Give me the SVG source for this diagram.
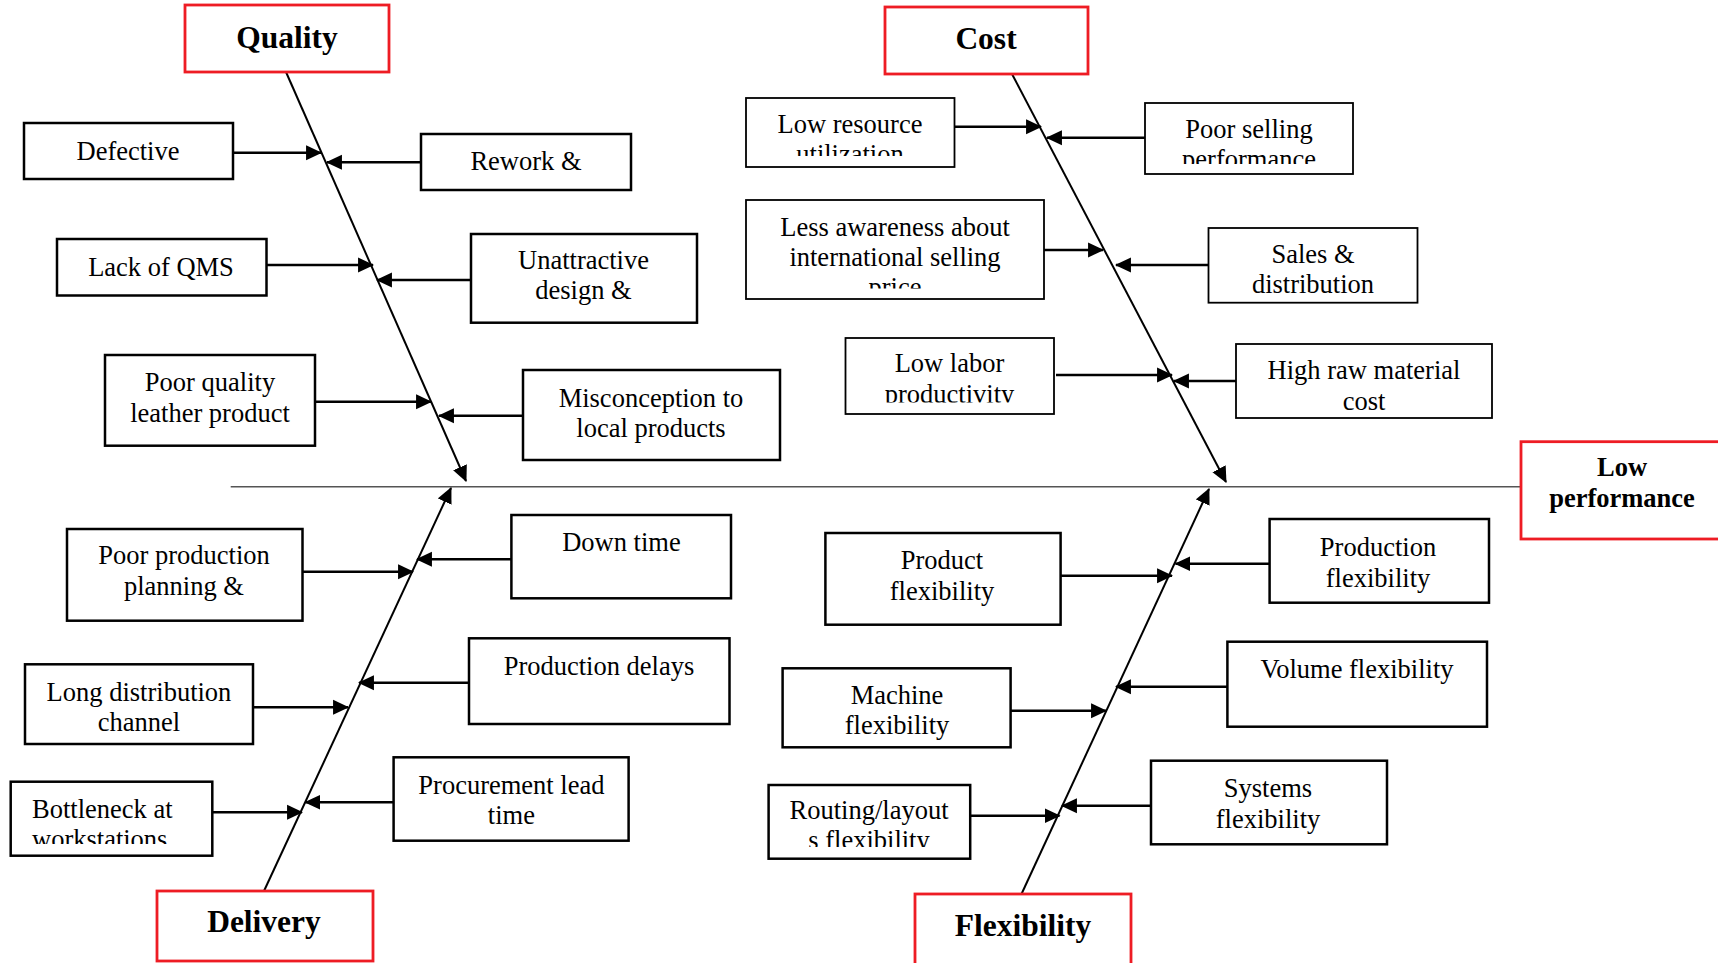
<svg xmlns="http://www.w3.org/2000/svg" width="1718" height="963" viewBox="0 0 1718 963">
<style>
.box{fill:#fff;stroke:#000;stroke-width:2.5}
.thin{stroke-width:1.8}
.cat{fill:#fff;stroke:#ee1c24;stroke-width:2.8}
.t{font-family:"Liberation Serif","Times New Roman",serif;font-size:26.5px;fill:#000;text-anchor:middle}
.l{text-anchor:start}
.h{font-family:"Liberation Serif","Times New Roman",serif;font-size:31.5px;font-weight:bold;fill:#000;text-anchor:middle}
.hp{font-family:"Liberation Serif","Times New Roman",serif;font-size:26.5px;font-weight:bold;fill:#000;text-anchor:middle}
.br{stroke:#000;stroke-width:2.6;fill:none;marker-end:url(#ah)}
.sp{stroke:#000;stroke-width:2;fill:none;marker-end:url(#ah)}
.main{stroke:#555;stroke-width:1.6;fill:none}
</style>
<defs>
<marker id="ah" markerUnits="userSpaceOnUse" markerWidth="16" markerHeight="16" viewBox="0 0 15 14" refX="14" refY="7" orient="auto">
<path d="M0,0 L15,7 L0,14 z" fill="#000"/>
</marker>
<clipPath id="c1"><rect x="746" y="98" width="209" height="58"/></clipPath>
<clipPath id="c2"><rect x="1145" y="103" width="208" height="61"/></clipPath>
<clipPath id="c3"><rect x="746" y="200" width="298" height="88.5"/></clipPath>
<clipPath id="c4"><rect x="845" y="338" width="209" height="64.5"/></clipPath>
<clipPath id="c5"><rect x="1236" y="344" width="256" height="71"/></clipPath>
<clipPath id="c6"><rect x="11" y="782" width="201" height="62"/></clipPath>
<clipPath id="c7"><rect x="769" y="785" width="201" height="62"/></clipPath>
</defs>

<g id="connectors">
<line class="main" x1="230.7" y1="486.7" x2="1521" y2="486.7"/>
<line class="sp" x1="286" y1="72" x2="466" y2="481"/>
<line class="sp" x1="1012" y1="74" x2="1226" y2="482"/>
<line class="sp" x1="264" y1="891" x2="451" y2="488"/>
<line class="sp" x1="1021.5" y1="894" x2="1209" y2="489"/>
<line class="br" x1="233" y1="152.7" x2="321" y2="152.7"/>
<line class="br" x1="421" y1="162.3" x2="327" y2="162.3"/>
<line class="br" x1="266.5" y1="265" x2="373" y2="265"/>
<line class="br" x1="471" y1="280" x2="377" y2="280"/>
<line class="br" x1="315" y1="401.7" x2="431" y2="401.7"/>
<line class="br" x1="523" y1="415.7" x2="439" y2="415.7"/>
<line class="br" x1="954.5" y1="126.7" x2="1041" y2="126.7"/>
<line class="br" x1="1145" y1="137.7" x2="1047" y2="137.7"/>
<line class="br" x1="1040" y1="250" x2="1103" y2="250"/>
<line class="br" x1="1211.7" y1="265" x2="1116" y2="265"/>
<line class="br" x1="1056" y1="375" x2="1172" y2="375"/>
<line class="br" x1="1239" y1="381" x2="1174" y2="381"/>
<line class="br" x1="302.5" y1="571.7" x2="413" y2="571.7"/>
<line class="br" x1="514.8" y1="559.3" x2="417" y2="559.3"/>
<line class="br" x1="253" y1="707.3" x2="348" y2="707.3"/>
<line class="br" x1="472.6" y1="682.7" x2="359" y2="682.7"/>
<line class="br" x1="212.3" y1="812.3" x2="302" y2="812.3"/>
<line class="br" x1="393.6" y1="802.3" x2="305.4" y2="802.3"/>
<line class="br" x1="1060.6" y1="575.7" x2="1172" y2="575.7"/>
<line class="br" x1="1272" y1="563.7" x2="1175.5" y2="563.7"/>
<line class="br" x1="1010.5" y1="710.7" x2="1106" y2="710.7"/>
<line class="br" x1="1229" y1="686.7" x2="1116" y2="686.7"/>
<line class="br" x1="970.2" y1="815.7" x2="1059.5" y2="815.7"/>
<line class="br" x1="1151" y1="805.7" x2="1062" y2="805.7"/>
</g>

<g id="quality"><rect class="cat" x="185" y="5" width="204" height="67"/><text class="h" x="287" y="48">Quality</text></g>
<g id="cost"><rect class="cat" x="885" y="7" width="203" height="67"/><text class="h" x="986" y="49">Cost</text></g>
<g id="delivery"><rect class="cat" x="157" y="891" width="216" height="70"/><text class="h" x="264" y="932">Delivery</text></g>
<g id="flexibility"><rect class="cat" x="915" y="894" width="216" height="80"/><text class="h" x="1023" y="936">Flexibility</text></g>
<g id="low-performance"><rect class="cat" x="1521" y="441.7" width="210" height="97.3"/><text class="hp" x="1622" y="476">Low</text><text class="hp" x="1622" y="507">performance</text></g>

<g id="defective"><rect class="box" x="24" y="123" width="209" height="56"/><text class="t" x="128" y="160">Defective</text></g>
<g id="rework"><rect class="box" x="421" y="134" width="210" height="56"/><text class="t" x="526" y="170">Rework &amp;</text></g>
<g id="lack-qms"><rect class="box" x="57" y="239" width="209.5" height="56.5"/><text class="t" x="161" y="276">Lack of QMS</text></g>
<g id="unattractive"><rect class="box" x="471" y="234" width="226" height="88.7"/><text class="t" x="583.5" y="269">Unattractive</text><text class="t" x="583.5" y="299">design &amp;</text></g>
<g id="poor-quality"><rect class="box" x="105" y="355" width="210" height="90.7"/><text class="t" x="210" y="391">Poor quality</text><text class="t" x="210" y="421.5">leather product</text></g>
<g id="misconception"><rect class="box" x="523" y="370" width="257" height="90"/><text class="t" x="651" y="407">Misconception to</text><text class="t" x="651" y="437">local products</text></g>

<g id="low-resource"><rect class="box thin" x="746" y="98" width="208.5" height="69"/><g clip-path="url(#c1)"><text class="t" x="850" y="132.5">Low resource</text><text class="t" x="850" y="163">utilization</text></g></g>
<g id="poor-selling"><rect class="box thin" x="1145" y="103" width="208" height="71"/><g clip-path="url(#c2)"><text class="t" x="1249" y="138">Poor selling</text><text class="t" x="1249" y="168">performance</text></g></g>
<g id="less-awareness"><rect class="box thin" x="746" y="200" width="298" height="99"/><g clip-path="url(#c3)"><text class="t" x="895" y="236">Less awareness about</text><text class="t" x="895" y="266">international selling</text><text class="t" x="895" y="296">price</text></g></g>
<g id="sales"><rect class="box thin" x="1208.5" y="228" width="209" height="74.7"/><text class="t" x="1313" y="263">Sales &amp;</text><text class="t" x="1313" y="293">distribution</text></g>
<g id="low-labor"><rect class="box thin" x="845.5" y="338" width="208.5" height="76"/><g clip-path="url(#c4)"><text class="t" x="949.5" y="372">Low labor</text><text class="t" x="949.5" y="403">productivity</text></g></g>
<g id="high-raw"><rect class="box thin" x="1236" y="344" width="256" height="74"/><g clip-path="url(#c5)"><text class="t" x="1364" y="379">High raw material</text><text class="t" x="1364" y="410">cost</text></g></g>

<g id="poor-production"><rect class="box" x="67" y="529" width="235.5" height="91.7"/><text class="t" x="184" y="564">Poor production</text><text class="t" x="184" y="595">planning &amp;</text></g>
<g id="down-time"><rect class="box" x="511.4" y="515" width="219.6" height="83.3"/><text class="t" x="621.4" y="551">Down time</text></g>
<g id="long-distribution"><rect class="box" x="25" y="664.3" width="228" height="79.7"/><text class="t" x="139" y="701">Long distribution</text><text class="t" x="139" y="731">channel</text></g>
<g id="production-delays"><rect class="box" x="469" y="638.3" width="260.5" height="85.7"/><text class="t" x="599" y="675">Production delays</text></g>
<g id="bottleneck"><rect class="box" x="10.7" y="781.7" width="201.6" height="74"/><g clip-path="url(#c6)"><text class="t l" x="32" y="817.5">Bottleneck at</text><text class="t l" x="32" y="847.5">workstations</text></g></g>
<g id="procurement"><rect class="box" x="393.6" y="757.3" width="235" height="83.4"/><text class="t" x="511.4" y="793.5">Procurement lead</text><text class="t" x="511.4" y="824">time</text></g>

<g id="product-flex"><rect class="box" x="825.4" y="533" width="235.2" height="91.7"/><text class="t" x="942" y="569">Product</text><text class="t" x="942" y="600">flexibility</text></g>
<g id="production-flex"><rect class="box" x="1269.6" y="519" width="219.4" height="83.7"/><text class="t" x="1378" y="556">Production</text><text class="t" x="1378" y="586.5">flexibility</text></g>
<g id="machine-flex"><rect class="box" x="782.6" y="668.3" width="228" height="79"/><text class="t" x="897" y="704">Machine</text><text class="t" x="897" y="734">flexibility</text></g>
<g id="volume-flex"><rect class="box" x="1227.4" y="641.7" width="259.6" height="85"/><text class="t" x="1357" y="678">Volume flexibility</text></g>
<g id="routing-flex"><rect class="box" x="768.6" y="785" width="201.6" height="73.7"/><g clip-path="url(#c7)"><text class="t" x="869" y="819">Routing/layout</text><text class="t" x="869" y="849">s flexibility</text></g></g>
<g id="systems-flex"><rect class="box" x="1151" y="760.7" width="236" height="83.6"/><text class="t" x="1268" y="797">Systems</text><text class="t" x="1268" y="827.5">flexibility</text></g>
</svg>
